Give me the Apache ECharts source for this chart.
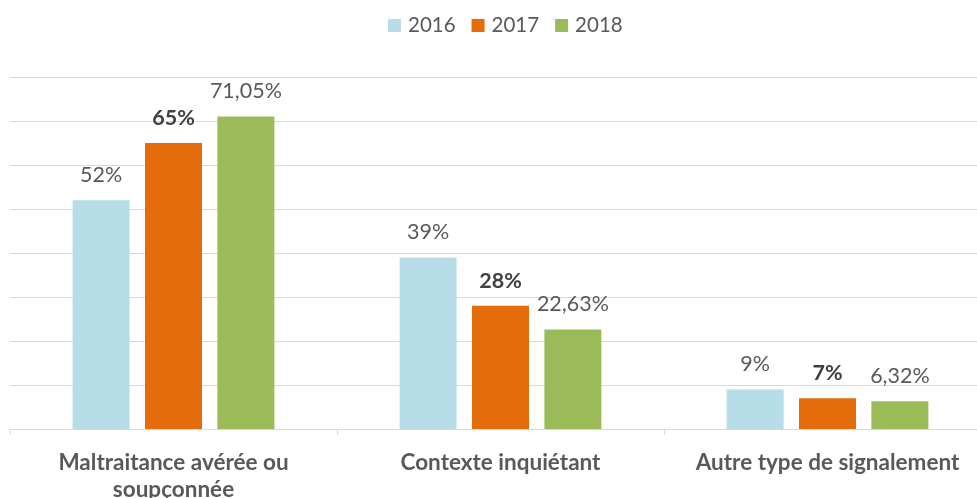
<!DOCTYPE html>
<html>
<head>
<meta charset="utf-8">
<script src="https://cdn.jsdelivr.net/npm/echarts@6/dist/echarts.min.js"></script>
<style>
  html, body { margin: 0; padding: 0; background: #fff; }
  #chart { width: 977px; height: 498px; }
</style>
</head>
<body>
<div id="chart"></div>
<script>
const categories = ['Maltraitance avérée ou\nsoupçonnée', 'Contexte inquiétant', 'Autre type de signalement']
const years = ['2016', '2017', '2018']
const values2016 = [52, 39, 9]
const values2017 = [65, 28, 7]
const values2018 = [71.05, 22.63, 6.32]
const colors = ['#B7DDE8', '#E46C0A', '#9BBB59']

const FONT = 'Lato'
// virgule décimale à la française
const fmt = (v) => String(v).replace('.', ',') + '%'

const makeSeries = (name, data, color, bold) => ({
  name,
  type: 'bar',
  data,
  barWidth: 57,
  barGap: '27%',
  itemStyle: { color },
  label: {
    show: true,
    position: 'top',
    distance: 14,
    formatter: (p) => fmt(p.value),
    fontFamily: FONT,
    fontSize: 21.5,
    fontWeight: bold ? 'bold' : 'normal',
    color: bold ? '#404040' : '#595959'
  }
})

const chart = echarts.init(document.getElementById('chart'))
chart.setOption({
  animation: false,
  legend: {
    data: years,
    top: 10,
    left: 383,
    itemWidth: 13,
    itemHeight: 13,
    itemGap: 16,
    icon: 'rect',
    textStyle: { fontFamily: FONT, fontSize: 20.5, color: '#595959', padding: [0, 0, 0, 2] }
  },
  grid: { left: 10, right: -14, top: 77, bottom: 69, containLabel: false, outerBoundsMode: 'none' },
  xAxis: {
    type: 'category',
    data: categories,
    axisLine: { lineStyle: { color: '#D9D9D9', width: 1 } },
    axisTick: { show: true, length: 6, interval: 0, lineStyle: { color: '#D9D9D9' } },
    axisLabel: {
      interval: 0,
      hideOverlap: false,
      fontFamily: FONT,
      fontSize: 22.5,
      fontWeight: 'bold',
      color: '#595959',
      margin: 20,
      lineHeight: 27
    }
  },
  yAxis: {
    type: 'value',
    min: 0,
    max: 80,
    interval: 10,
    axisLabel: { show: false },
    axisLine: { show: false },
    axisTick: { show: false },
    splitLine: { lineStyle: { color: '#D9D9D9', width: 1 } }
  },
  series: [
    makeSeries(years[0], values2016, colors[0], false),
    makeSeries(years[1], values2017, colors[1], true),
    makeSeries(years[2], values2018, colors[2], false)
  ]
})
</script>
</body>
</html>
